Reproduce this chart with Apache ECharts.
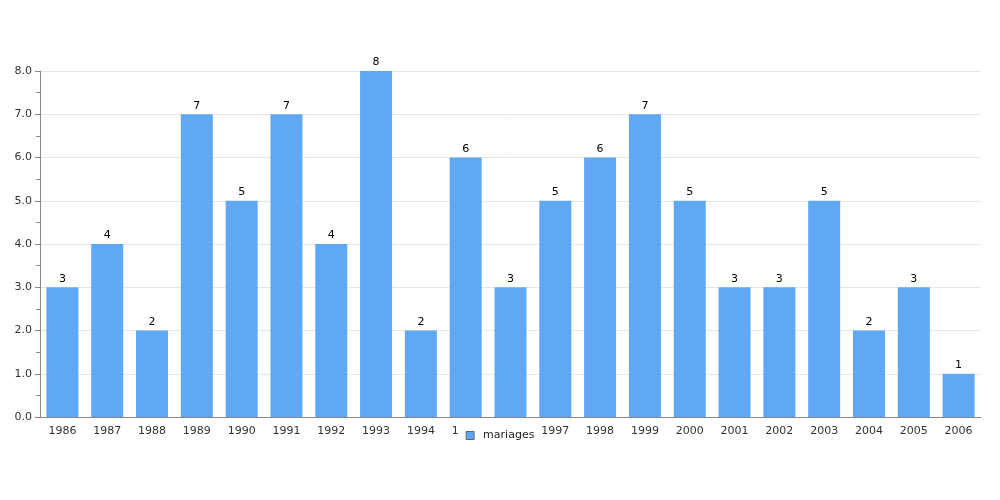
<!DOCTYPE html>
<html><head><meta charset="utf-8">
<script src="https://cdn.jsdelivr.net/npm/echarts@6/dist/echarts.min.js"></script>
<style>html,body{margin:0;padding:0;background:#fff}#c{width:1000px;height:500px}</style>
</head><body><div id="c"></div>
<script>
const categories = ['1986','1987','1988','1989','1990','1991','1992','1993','1994','1995','1996','1997','1998','1999','2000','2001','2002','2003','2004','2005','2006'];
const mariages = [3,4,2,7,5,7,4,8,2,6,3,5,6,7,5,3,3,5,2,3,1];
const seriesName = 'mariages';

const chart = echarts.init(document.getElementById('c'), null, {renderer:'canvas'});
chart.setOption({
  animation: false,
  textStyle: {fontFamily: 'DejaVu Sans'},
  grid: {left: 40, right: 19, top: 71, bottom: 83, containLabel: false},
  legend: {
    data: [seriesName],
    top: 421,
    left: 'center',
    backgroundColor: '#fff',
    padding: [9, 7, 4, 7],
    icon: 'rect',
    itemWidth: 8,
    itemHeight: 8,
    itemGap: 10,
    itemStyle: {borderColor: '#666', borderWidth: 1},
    textStyle: {fontFamily: 'DejaVu Sans', fontSize: 11, color: '#222', padding: [0,0,0,4]},
    z: 50, zlevel: 1
  },
  xAxis: {
    type: 'category',
    data: categories,
    axisLine: {lineStyle: {color: '#888'}},
    axisTick: {show: false},
    axisLabel: {fontFamily: 'DejaVu Sans', fontSize: 11, color: '#333', margin: 9, interval: 0}
  },
  yAxis: {
    type: 'value',
    min: 0, max: 8, interval: 1,
    axisLine: {show: true, lineStyle: {color: '#888'}},
    axisTick: {show: true, length: 5, lineStyle: {color: '#888'}},
    minorTick: {show: true, splitNumber: 2, length: 4, lineStyle: {color: '#888'}},
    splitLine: {lineStyle: {color: '#e6e6e6'}},
    axisLabel: {fontFamily: 'DejaVu Sans', fontSize: 11, color: '#333', margin: 8, formatter: v => v.toFixed(1)}
  },
  series: [{
    name: seriesName,
    type: 'bar',
    data: mariages,
    barWidth: 32,
    itemStyle: {color: '#61a8f4'},
    label: {show: true, position: 'top', distance: 3, color: '#000', fontFamily: 'DejaVu Sans', fontSize: 11}
  }]
});
</script></body></html>
